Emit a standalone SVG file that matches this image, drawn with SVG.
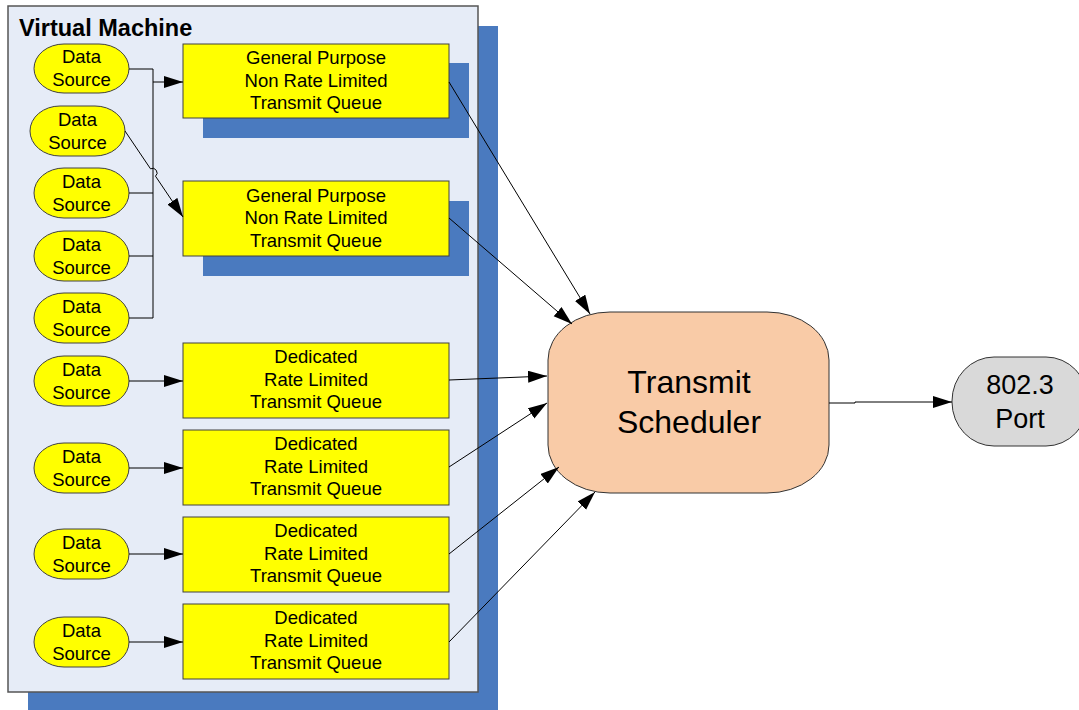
<svg xmlns="http://www.w3.org/2000/svg" width="1079" height="710" viewBox="0 0 1079 710">
  <defs>
    <marker id="arrow" markerUnits="userSpaceOnUse" markerWidth="20" markerHeight="13" refX="19" refY="6" orient="auto">
      <path d="M0,0 L19,6 L0,12 z" fill="#000"/>
    </marker>
    <style>
      .shadow { fill: #4a7abf; }
      .panel { fill: #e6ecf7; stroke: #555; stroke-width: 1.5; }
      .src { fill: #ffff00; stroke: #404040; stroke-width: 1; }
      .queue { fill: #ffff00; stroke: #404040; stroke-width: 1; }
      .sched { fill: #f9cba7; stroke: #333; stroke-width: 1; }
      .port { fill: #d9d9d9; stroke: #333; stroke-width: 1; }
      text { font-family: "Liberation Sans", Arial, sans-serif; fill: #000; text-anchor: middle; }
      .t18 { font-size: 18.5px; }
      .title { font-size: 23.5px; font-weight: bold; text-anchor: start; }
      .big { font-size: 32px; }
      .mid { font-size: 27px; }
      .wire { fill: none; stroke: #000; stroke-width: 1; }
      .arr { fill: none; stroke: #000; stroke-width: 1; marker-end: url(#arrow); }
    </style>
  </defs>

  <!-- virtual machine container with its drop shadow -->
  <g id="virtual-machine">
    <rect class="shadow" x="28" y="26" width="470" height="690"/>
    <rect class="panel" x="8" y="6" width="470" height="686"/>
    <text class="title" x="19" y="36">Virtual Machine</text>
  </g>

  <!-- queue shadows -->
  <rect class="shadow" x="203" y="63" width="266" height="75"/>
  <rect class="shadow" x="203" y="201" width="266" height="75"/>

  <!-- data sources -->
  <g id="ds1"><rect class="src" x="34" y="44" width="95" height="49" rx="30" ry="24.5"/>
    <text class="t18" x="81.5" y="63">Data</text><text class="t18" x="81.5" y="86">Source</text></g>
  <g id="ds2"><rect class="src" x="30" y="106" width="95" height="50" rx="30" ry="25"/>
    <text class="t18" x="77.5" y="125.5">Data</text><text class="t18" x="77.5" y="148.5">Source</text></g>
  <g id="ds3"><rect class="src" x="34" y="168" width="95" height="50" rx="30" ry="25"/>
    <text class="t18" x="81.5" y="187.5">Data</text><text class="t18" x="81.5" y="210.5">Source</text></g>
  <g id="ds4"><rect class="src" x="34" y="231" width="95" height="50" rx="30" ry="25"/>
    <text class="t18" x="81.5" y="250.5">Data</text><text class="t18" x="81.5" y="273.5">Source</text></g>
  <g id="ds5"><rect class="src" x="34" y="293" width="95" height="50" rx="30" ry="25"/>
    <text class="t18" x="81.5" y="312.5">Data</text><text class="t18" x="81.5" y="335.5">Source</text></g>
  <g id="ds6"><rect class="src" x="34" y="356" width="95" height="50" rx="30" ry="25"/>
    <text class="t18" x="81.5" y="375.5">Data</text><text class="t18" x="81.5" y="398.5">Source</text></g>
  <g id="ds7"><rect class="src" x="34" y="443" width="95" height="50" rx="30" ry="25"/>
    <text class="t18" x="81.5" y="462.5">Data</text><text class="t18" x="81.5" y="485.5">Source</text></g>
  <g id="ds8"><rect class="src" x="34" y="529" width="95" height="50" rx="30" ry="25"/>
    <text class="t18" x="81.5" y="548.5">Data</text><text class="t18" x="81.5" y="571.5">Source</text></g>
  <g id="ds9"><rect class="src" x="34" y="617" width="95" height="50" rx="30" ry="25"/>
    <text class="t18" x="81.5" y="636.5">Data</text><text class="t18" x="81.5" y="659.5">Source</text></g>

  <!-- transmit queues -->
  <g id="gp-queue-1"><rect class="queue" x="183" y="44" width="266" height="74"/>
    <text class="t18" x="316" y="64">General Purpose</text><text class="t18" x="316" y="86.5">Non Rate Limited</text><text class="t18" x="316" y="109">Transmit Queue</text></g>
  <g id="gp-queue-2"><rect class="queue" x="183" y="181" width="266" height="75"/>
    <text class="t18" x="316" y="201.5">General Purpose</text><text class="t18" x="316" y="224">Non Rate Limited</text><text class="t18" x="316" y="246.5">Transmit Queue</text></g>
  <g id="rl-queue-1"><rect class="queue" x="183" y="343" width="266" height="75"/>
    <text class="t18" x="316" y="363">Dedicated</text><text class="t18" x="316" y="386">Rate Limited</text><text class="t18" x="316" y="408">Transmit Queue</text></g>
  <g id="rl-queue-2"><rect class="queue" x="183" y="430" width="266" height="75"/>
    <text class="t18" x="316" y="450">Dedicated</text><text class="t18" x="316" y="473">Rate Limited</text><text class="t18" x="316" y="495">Transmit Queue</text></g>
  <g id="rl-queue-3"><rect class="queue" x="183" y="517" width="266" height="75"/>
    <text class="t18" x="316" y="537">Dedicated</text><text class="t18" x="316" y="560">Rate Limited</text><text class="t18" x="316" y="582">Transmit Queue</text></g>
  <g id="rl-queue-4"><rect class="queue" x="183" y="604" width="266" height="75"/>
    <text class="t18" x="316" y="624">Dedicated</text><text class="t18" x="316" y="647">Rate Limited</text><text class="t18" x="316" y="669">Transmit Queue</text></g>

  <!-- scheduler and port -->
  <g id="scheduler"><rect class="sched" x="548" y="312" width="281" height="181" rx="62" ry="48"/>
    <text class="big" x="689" y="393">Transmit</text><text class="big" x="689" y="433">Scheduler</text></g>
  <g id="port"><rect class="port" x="952" y="357" width="136" height="89" rx="42" ry="44"/>
    <text class="mid" x="1020" y="394">802.3</text><text class="mid" x="1020" y="428">Port</text></g>

  <!-- connectors -->
  <g id="connectors">
    <!-- shared bus into the first general purpose queue -->
    <path class="wire" d="M129,69 H153 V318 M129,193 H153 M129,256 H153 M129,318 H153"/>
    <path class="arr" d="M153,82 H183"/>
    <!-- crossing line with a hop over the bus -->
    <path class="arr" d="M125,131 L150.5,168.8 A4.5,4.5 0 0 1 155.5,176.2 L183,217"/>
    <path class="arr" d="M129,381 H183"/>
    <path class="arr" d="M129,468 H183"/>
    <path class="arr" d="M129,554 H183"/>
    <path class="arr" d="M129,642 H183"/>
    <!-- queues into the scheduler -->
    <path class="arr" d="M449,82 L590,314"/>
    <path class="arr" d="M449,218 L572,324"/>
    <path class="arr" d="M449,380 L547,376"/>
    <path class="arr" d="M449,467 L547,403"/>
    <path class="arr" d="M449,554 L559,467"/>
    <path class="arr" d="M449,642 L595,492"/>
    <!-- scheduler to port -->
    <path class="arr" d="M829,403 H855 V402 H952"/>
  </g>
</svg>
